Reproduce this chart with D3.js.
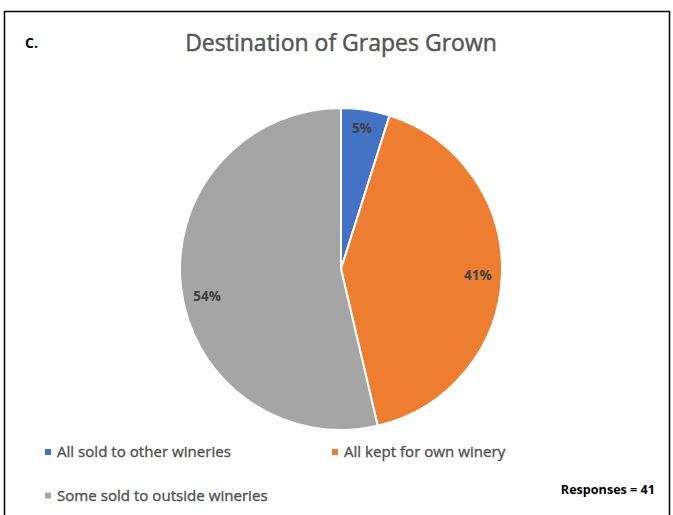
<!DOCTYPE html>
<html>
<head>
<meta charset="utf-8">
<script src="https://cdn.jsdelivr.net/npm/d3@7"></script>
<style>
  html, body { margin: 0; padding: 0; background: #fff; }
  svg { display: block; }
</style>
</head>
<body>
<svg id="chart" width="673" height="515"></svg>
<script>
// Survey answers: where the grapes grown end up (counts of respondents)
const categories = ["All sold to other wineries", "All kept for own winery", "Some sold to outside wineries"];
const counts = [2, 17, 22];
const colors = ["#4472C4", "#ED7D31", "#A5A5A5"];
const responses = 41;

const svg = d3.select("#chart");
const font = "'Open Sans', 'Noto Sans', sans-serif";

// panel frame (top and side rules)
svg.append("path")
  .attr("d", "M4.5,515 V11.5 H669.5 V515")
  .attr("fill", "none")
  .attr("stroke", "#000")
  .attr("stroke-width", 1.5);

svg.append("text")
  .attr("x", 25).attr("y", 48)
  .attr("font-family", font).attr("font-weight", 700)
  .attr("font-size", 14).attr("fill", "#000")
  .text("C.");

// title, slightly emboldened with a thin outline
svg.append("text")
  .attr("x", 341).attr("y", 51)
  .attr("text-anchor", "middle")
  .attr("font-family", font)
  .attr("font-size", 23).attr("fill", "#555")
  .attr("stroke", "#555").attr("stroke-width", 0.5)
  .text("Destination of Grapes Grown");

const cx = 341, cy = 269, R = 161;
const total = d3.sum(counts);
const pie = d3.pie().sort(null).value(d => d)(counts);
const arc = d3.arc().innerRadius(0).outerRadius(R);
const labelArc = d3.arc().innerRadius(R * 0.85).outerRadius(R * 0.85);
// small best-fit nudges for the percentage labels
const labelNudge = [[0, -5], [0, 1], [2, 12]];

const g = svg.append("g").attr("transform", `translate(${cx},${cy})`);
g.selectAll("path.slice")
  .data(pie)
  .join("path")
  .attr("class", "slice")
  .attr("d", arc)
  .attr("fill", (d, i) => colors[i])
  .attr("stroke", "#fff")
  .attr("stroke-width", 2);

g.selectAll("text.pct")
  .data(pie)
  .join("text")
  .attr("class", "pct")
  .attr("transform", (d, i) => {
    const [x, y] = labelArc.centroid(d);
    return `translate(${x + labelNudge[i][0]},${y + labelNudge[i][1]})`;
  })
  .attr("text-anchor", "middle")
  .attr("dy", "0.35em")
  .attr("font-family", font).attr("font-weight", 700)
  .attr("font-size", 13.5).attr("fill", "#404040")
  .text(d => Math.round(d.data / total * 100) + "%");

// legend
const legendPos = [[45, 452], [332, 452], [45, 495.5]];
const leg = svg.selectAll("g.leg")
  .data(categories)
  .join("g")
  .attr("class", "leg")
  .attr("transform", (d, i) => `translate(${legendPos[i][0]},${legendPos[i][1]})`);
leg.append("rect")
  .attr("x", 0).attr("y", -3)
  .attr("width", 6).attr("height", 6)
  .attr("fill", (d, i) => colors[i]);
leg.append("text")
  .attr("x", 12).attr("y", 0)
  .attr("dy", "0.35em")
  .attr("font-family", font)
  .attr("font-size", 15.1).attr("fill", "#505050")
  .attr("stroke", "#505050").attr("stroke-width", 0.35)
  .text(d => d);

svg.append("text")
  .attr("x", 655).attr("y", 494)
  .attr("text-anchor", "end")
  .attr("font-family", font).attr("font-weight", 700)
  .attr("font-size", 12.6).attr("fill", "#000")
  .text(`Responses = ${responses}`);
</script>
</body>
</html>
